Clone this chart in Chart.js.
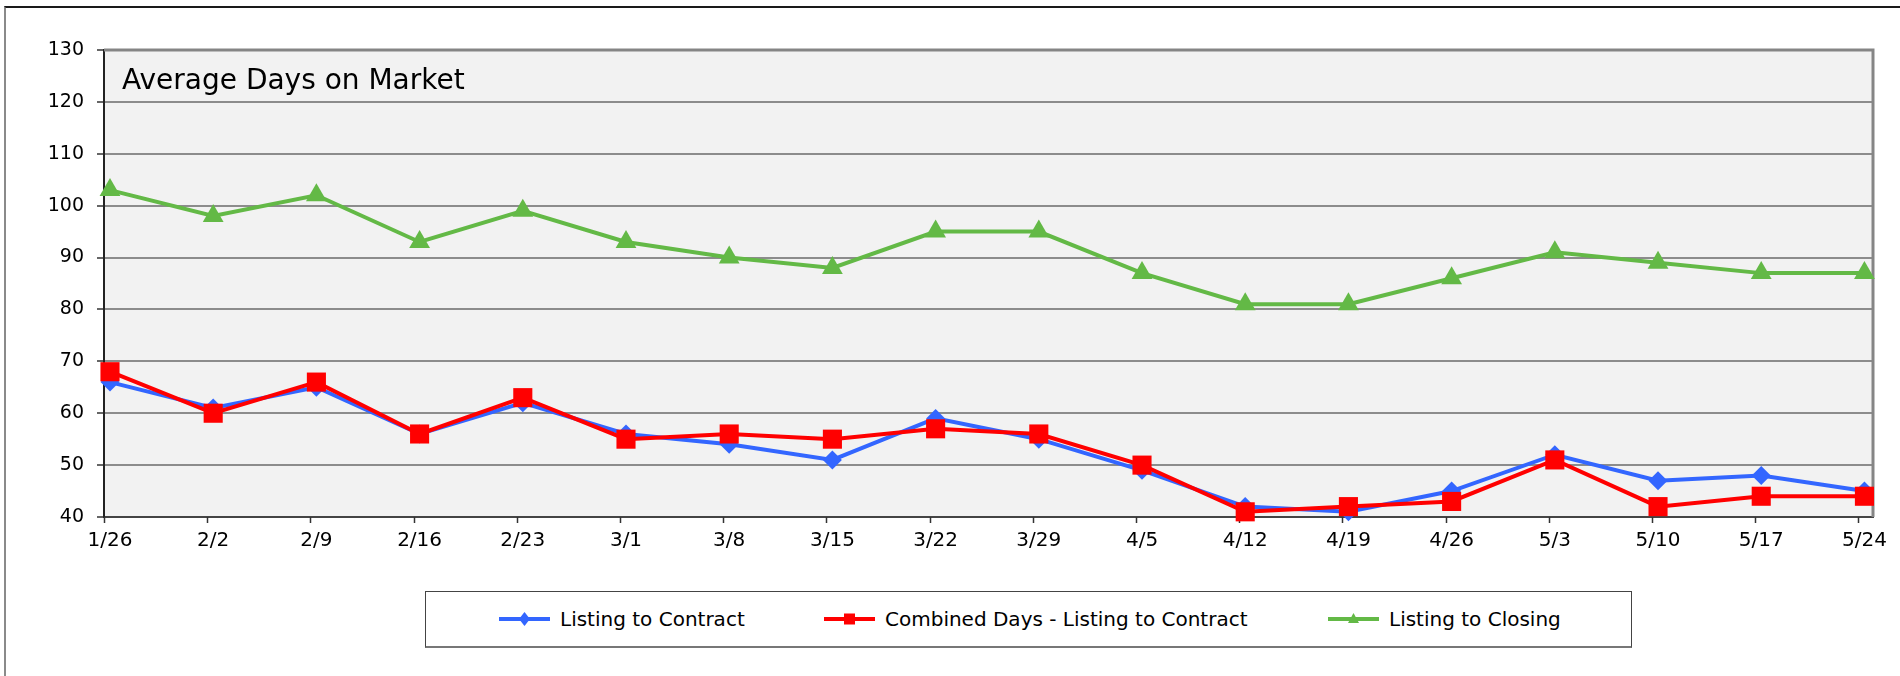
<!DOCTYPE html>
<html>
<head>
<meta charset="utf-8">
<title>Average Days on Market</title>
<script src="https://cdn.jsdelivr.net/npm/chart.js@4/dist/chart.umd.min.js"></script>
<style>
  html, body { margin: 0; padding: 0; background: #fff; }
  body { width: 1900px; height: 676px; position: relative; overflow: hidden; font-family: 'DejaVu Sans', sans-serif; }
  #frame { position: absolute; left: 4px; top: 6px; width: 1920px; height: 700px; border-left: 2px solid #8a8a8a; border-top: 2px solid #1a1a1a; }
  #wrap { position: absolute; left: 0; top: 0; width: 1900px; height: 676px; }
  #legend { position: absolute; left: 425px; top: 591px; width: 1205px; height: 54px; border: 1px solid #444; border-bottom: 2px solid #777; background: #fff; }
  .item { position: absolute; top: 0; height: 54px; display: flex; align-items: center; font-size: 20px; color: #000; white-space: nowrap; }
  .item svg { margin-right: 10px; }
</style>
</head>
<body>
<div id="frame"></div>
<div id="wrap"><canvas id="chart" width="1900" height="676"></canvas></div>
<div id="legend"></div>
<script>
// weekly data points
const weekLabels = ['1/26', '2/2', '2/9', '2/16', '2/23', '3/1', '3/8', '3/15', '3/22',
  '3/29', '4/5', '4/12', '4/19', '4/26', '5/3', '5/10', '5/17', '5/24'];
const listingToContract = [66, 61, 65, 56, 62, 56, 54, 51, 59, 55, 49, 42, 41, 45, 52, 47, 48, 45];
const combinedDays = [68, 60, 66, 56, 63, 55, 56, 55, 57, 56, 50, 41, 42, 43, 51, 42, 44, 44];
const listingToClosing = [103, 98, 102, 93, 99, 93, 90, 88, 95, 95, 87, 81, 81, 86, 91, 89, 87, 87];
const yMin = 40;
const yMax = 130;
const yStep = 10;
const chartTitle = 'Average Days on Market';

const FONT = "'DejaVu Sans', sans-serif";
const tickShift = 0.058; // excel draws the date ticks a bit left of the points

function toPoints(values) {
  return values.map((v, i) => ({ x: i, y: v }));
}

// grey plot background
const plotBackground = {
  id: 'plotBackground',
  beforeDraw(chart) {
    const { ctx, chartArea: a } = chart;
    ctx.save();
    ctx.fillStyle = '#f2f2f2';
    ctx.fillRect(a.left, a.top, a.right - a.left, a.bottom - a.top);
    ctx.restore();
  }
};

// top / right frame, x tick marks and the title inside the plot
const plotDecor = {
  id: 'plotDecor',
  beforeDatasetsDraw(chart) {
    const { ctx, chartArea: a } = chart;
    const xs = chart.scales.x;
    ctx.save();
    ctx.strokeStyle = '#858585';
    ctx.lineWidth = 3;
    ctx.beginPath();
    ctx.moveTo(a.left, a.top);
    ctx.lineTo(a.right, a.top);
    ctx.lineTo(a.right, a.bottom);
    ctx.stroke();

    ctx.strokeStyle = '#333';
    ctx.lineWidth = 1.5;
    weekLabels.forEach((lbl, i) => {
      const px = Math.round(xs.getPixelForValue(i - tickShift)) + 0.5;
      ctx.beginPath();
      ctx.moveTo(px, a.bottom);
      ctx.lineTo(px, a.bottom + 6);
      ctx.stroke();
    });

    ctx.fillStyle = '#000';
    ctx.font = '28px ' + FONT;
    ctx.textBaseline = 'alphabetic';
    ctx.textAlign = 'left';
    ctx.fillText(chartTitle, a.left + 18, 89);
    ctx.restore();
  }
};

const ctx = document.getElementById('chart').getContext('2d');
const chart = new Chart(ctx, {
  type: 'line',
  data: {
    datasets: [
      {
        label: 'Listing to Contract',
        data: toPoints(listingToContract),
        borderColor: '#3366ff',
        backgroundColor: '#3366ff',
        borderWidth: 4,
        pointStyle: 'rectRot',
        pointRadius: 9.5,
        pointBorderWidth: 0,
        order: 1,
        legendMark: 'diamond'
      },
      {
        label: 'Combined Days - Listing to Contract',
        data: toPoints(combinedDays),
        borderColor: '#ff0000',
        backgroundColor: '#ff0000',
        borderWidth: 4,
        pointStyle: 'rect',
        pointRadius: 13.5,
        pointBorderWidth: 0,
        order: 0,
        legendMark: 'square'
      },
      {
        label: 'Listing to Closing',
        data: toPoints(listingToClosing),
        borderColor: '#63b946',
        backgroundColor: '#63b946',
        borderWidth: 4,
        pointStyle: 'triangle',
        pointRadius: 12,
        pointBorderWidth: 0,
        order: 2,
        legendMark: 'triangle'
      }
    ]
  },
  options: {
    responsive: false,
    animation: false,
    layout: {
      padding: { top: 50, right: 27, left: 0, bottom: 0 }
    },
    elements: {
      line: { tension: 0 }
    },
    datasets: {
      line: { clip: false }
    },
    plugins: {
      legend: { display: false },
      title: { display: false },
      tooltip: { enabled: false }
    },
    scales: {
      x: {
        type: 'linear',
        min: -tickShift,
        max: 17.083,
        afterFit(scale) { scale.height = 159; },
        afterBuildTicks(scale) {
          scale.ticks = weekLabels.map((l, i) => ({ value: i }));
        },
        ticks: {
          autoSkip: false,
          maxRotation: 0,
          padding: 12,
          color: '#000',
          font: { family: FONT, size: 20 },
          callback: (value) => weekLabels[value]
        },
        grid: { display: true, drawOnChartArea: false, drawTicks: false },
        border: { display: true, color: '#444', width: 2 }
      },
      y: {
        min: yMin,
        max: yMax,
        afterFit(scale) { scale.width = 104; },
        ticks: {
          stepSize: yStep,
          padding: 13,
          color: '#000',
          font: { family: FONT, size: 19 }
        },
        grid: {
          color: (c) => (c.tick && c.tick.value === yMax ? 'rgba(0,0,0,0)' : '#8c8c8c'),
          lineWidth: 2,
          tickLength: 7,
          tickColor: '#333',
          tickWidth: 1.5
        },
        border: { display: true, color: '#222', width: 2 }
      }
    }
  },
  plugins: [plotBackground, plotDecor]
});

// html legend built from the chart datasets
function markSvg(ds) {
  const c = ds.borderColor;
  let shape = '';
  if (ds.legendMark === 'diamond') {
    shape = `<polygon points="25.5,4 31,11 25.5,18 20,11" fill="${c}"/>`;
  } else if (ds.legendMark === 'square') {
    shape = `<rect x="20" y="5.5" width="11" height="11" fill="${c}"/>`;
  } else {
    shape = `<polygon points="25.5,5 31,15 20,15" fill="${c}"/>`;
  }
  return `<svg width="51" height="22" viewBox="0 0 51 22"><line x1="0" y1="11" x2="51" y2="11" stroke="${c}" stroke-width="4"/>${shape}</svg>`;
}

const legendLefts = [73, 398, 902];
const legendEl = document.getElementById('legend');
chart.data.datasets.forEach((ds, i) => {
  const item = document.createElement('div');
  item.className = 'item';
  item.style.left = legendLefts[i] + 'px';
  item.innerHTML = markSvg(ds) + '<span>' + ds.label + '</span>';
  legendEl.appendChild(item);
});
</script>
</body>
</html>
